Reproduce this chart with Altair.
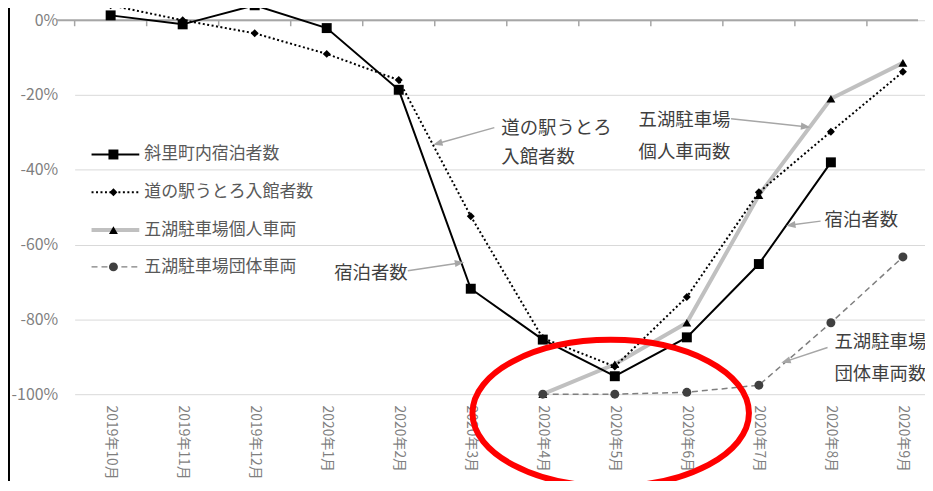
import math
import altair as alt
import pandas as pd

FONT = "Noto Sans CJK JP"

months = ["2019年10月", "2019年11月", "2019年12月", "2020年1月", "2020年2月", "2020年3月",
          "2020年4月", "2020年5月", "2020年6月", "2020年7月", "2020年8月", "2020年9月"]
series_names = ["斜里町内宿泊者数", "道の駅うとろ入館者数", "五湖駐車場個人車両", "五湖駐車場団体車両"]
shari = [1.3, -1.1, 4.0, -2.1, -18.6, -71.8, -85.4, -95.2, -84.8, -65.2, -38.0, None]
michi = [4.0, 0.0, -3.5, -9.0, -16.0, -52.4, -85.0, -92.6, -74.0, -46.0, -29.8, -13.8]
kojin = [None, None, None, None, None, None, -100.0, -92.0, -80.9, -46.8, -21.0, -11.4]
dantai = [None, None, None, None, None, None, -100.0, -100.0, -99.5, -97.6, -80.9, -63.3]
y_ticks = [0, -20, -40, -60, -80, -100]

values_by_series = [shari, michi, kojin, dantai]
rows = []
for name, vals in zip(series_names, values_by_series):
    for m, v in zip(months, vals):
        if v is not None:
            rows.append({"series": name, "month": m, "value": v})
df = pd.DataFrame(rows)

styles = [
    dict(color="#000000", width=2, dash=None, shape="square", size=100, mcolor="#000000"),
    dict(color="#000000", width=2, dash=[2, 2.5], shape="diamond", size=64, mcolor="#000000"),
    dict(color="#c0c0c0", width=4, dash=None, shape="triangle-up", size=80, mcolor="#000000"),
    dict(color="#7f7f7f", width=1.5, dash=[6, 4], shape="circle", size=81, mcolor="#404040"),
]

W, H = 848, 387
xscale = alt.Scale(type="band", domain=months, range=[0, 869], paddingInner=0, paddingOuter=0)
yscale = alt.Scale(domain=[-100, 2.93], nice=False, zero=False)

xaxis = alt.Axis(labelAngle=90, domain=False, ticks=False, grid=False, labelColor="#7f7f7f",
                 labelFontSize=14, labelFont=FONT, labelPadding=11, title=None,
                 labelAlign="left", labelBaseline="middle", labelOverlap=False,
                 labelBound=False, labelLimit=200)
yaxis = alt.Axis(values=y_ticks, labelExpr="datum.value + '%'", domain=False, ticks=False,
                 grid=True, gridColor="#d9d9d9", gridWidth=1, labelColor="#7f7f7f",
                 labelFontSize=16, labelFont=FONT, labelPadding=17, title=None)


def X(bp=0.5):
    return alt.X("month:O", sort=months, scale=xscale, axis=xaxis, bandPosition=bp)


def Y(field="value"):
    return alt.Y(f"{field}:Q", scale=yscale, axis=yaxis)


one = pd.DataFrame({"a": [0]})
layers = []

# zero line with ticks
layers.append(
    alt.Chart(pd.DataFrame({"v": [0]})).mark_rule(color="#a6a6a6", strokeWidth=2).encode(
        x=alt.value(-18), x2=alt.value(W), y=Y("v")
    )
)
layers.append(
    alt.Chart(pd.DataFrame({"month": months, "v": [0] * 12, "v2": [-1.6] * 12}))
    .mark_rule(color="#a6a6a6", strokeWidth=1.5)
    .encode(x=X(0), y=Y("v"), y2="v2:Q")
)

draw_order = [2, 3, 1, 0]
for i in draw_order:
    name, st = series_names[i], styles[i]
    kw = dict(color=st["color"], strokeWidth=st["width"], strokeCap="butt")
    if st["dash"]:
        kw["strokeDash"] = st["dash"]
    layers.append(
        alt.Chart(df[df.series == name]).mark_line(**kw).encode(x=X(), y=Y())
    )
for i in draw_order:
    name, st = series_names[i], styles[i]
    layers.append(
        alt.Chart(df[df.series == name]).mark_point(
            shape=st["shape"], size=st["size"], filled=True, color=st["mcolor"], opacity=1
        ).encode(x=X(), y=Y())
    )

# manual legend
legend_y = [146, 184, 222, 259]
for i, name in enumerate(series_names):
    st = styles[i]
    ly = legend_y[i]
    kw = dict(color=st["color"], strokeWidth=st["width"], strokeCap="butt")
    if st["dash"]:
        kw["strokeDash"] = st["dash"]
    layers.append(alt.Chart(one).mark_rule(**kw).encode(
        x=alt.value(17), x2=alt.value(65), y=alt.value(ly)))
    layers.append(alt.Chart(one).mark_point(
        shape=st["shape"], size=st["size"], filled=True, color=st["mcolor"], opacity=1
    ).encode(x=alt.value(39), y=alt.value(ly)))
    layers.append(alt.Chart(one).mark_text(
        align="left", baseline="middle", fontSize=17, font=FONT, color="#595959"
    ).encode(x=alt.value(70), y=alt.value(ly), text=alt.value(name)))

# annotations
notes = [
    ("道の駅うとろ", 429, 119), ("入館者数", 429, 149),
    ("五湖駐車場", 567, 111), ("個人車両数", 567, 144),
    ("宿泊者数", 754, 212),
    ("宿泊者数", 261, 265),
    ("五湖駐車場", 764, 335), ("団体車両数", 764, 367),
]
for t, x, y in notes:
    layers.append(alt.Chart(one).mark_text(
        align="left", baseline="middle", fontSize=18.5, font=FONT, color="#3f3f3f"
    ).encode(x=alt.value(x), y=alt.value(y), text=alt.value(t)))

arrows = [
    ((422, 119), (365, 135)),
    ((660, 110), (735, 118)),
    ((750, 213), (720, 217)),
    ((335, 263), (387, 255)),
    ((757, 340), (715, 354)),
]
head_path = "M 1 0 L -1 -0.75 L -1 0.75 Z"
for (x1, y1), (x2, y2) in arrows:
    ang = math.degrees(math.atan2(y2 - y1, x2 - x1)) % 360
    layers.append(alt.Chart(one).mark_rule(color="#a6a6a6", strokeWidth=1.5).encode(
        x=alt.value(x1), y=alt.value(y1), x2=alt.value(x2), y2=alt.value(y2)))
    layers.append(alt.Chart(one).mark_point(
        shape=head_path, size=90, filled=True, color="#a6a6a6", opacity=1, angle=ang
    ).encode(x=alt.value(x2), y=alt.value(y2)))

# left border
layers.append(alt.Chart(one).mark_rule(color="#000000", strokeWidth=2).encode(
    x=alt.value(-66), y=alt.value(-10), y2=alt.value(490)))

# red ellipse highlight
k = 0.5523
b = 0.53
kb = round(k * b, 4)
ellipse_path = (f"M -1 0 C -1 {-kb} {-k} {-b} 0 {-b} C {k} {-b} 1 {-kb} 1 0 "
                f"C 1 {kb} {k} {b} 0 {b} C {-k} {b} -1 {kb} -1 0 Z")
layers.append(alt.Chart(one).mark_point(
    shape=ellipse_path, size=139 * 139 * 4, filled=False, stroke="#ff0000",
    strokeWidth=6, opacity=1
).encode(x=alt.value(539), y=alt.value(406)))

chart = alt.layer(*layers).properties(
    width=W, height=H,
    padding={"left": 67, "top": 0, "right": 7, "bottom": 86},
    autosize=alt.AutoSizeParams(type="none"),
    background="white",
).configure_view(stroke=None)

chart.save("out.html", embed_options={"renderer": "svg", "actions": False})
